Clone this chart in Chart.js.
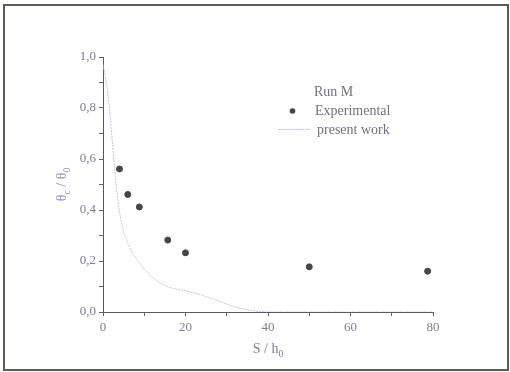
<!DOCTYPE html>
<html>
<head>
<meta charset="utf-8">
<script src="https://cdn.jsdelivr.net/npm/chart.js@4.4.1/dist/chart.umd.min.js"></script>
<style>
  html, body { margin: 0; padding: 0; background: #fff; }
  #wrap { width: 510px; height: 372px; }
</style>
</head>
<body>
<div id="wrap"><canvas id="myChart" width="510" height="372"></canvas></div>
<script>
// measured points, Run M
const expX = [4.0, 6.0, 8.8, 15.7, 20.0, 50.0, 78.7];
const expY = [0.561, 0.461, 0.412, 0.282, 0.232, 0.177, 0.160];

// model curve (present work)
const modelX = [0, 0.5, 1, 1.5, 2, 2.5, 3, 3.5, 4, 5, 6, 7, 8, 9, 10, 12, 14, 16, 18, 20, 22, 24, 26, 28, 30, 32, 34, 36, 38, 40, 50, 60, 70, 80];
const modelY = [0.97, 0.93, 0.88, 0.81, 0.72, 0.62, 0.53, 0.45, 0.39, 0.315, 0.27, 0.235, 0.21, 0.19, 0.168, 0.135, 0.112, 0.097, 0.089, 0.083, 0.075, 0.066, 0.055, 0.043, 0.031, 0.02, 0.012, 0.006, 0.002, 0, 0, 0, 0, 0];

const legendTitle = 'Run M';
const seriesNames = ['Experimental', 'present work'];

const tickColor = '#7b7f93';
const lineColor = '#bcc3f2';
const serif = '"Liberation Serif", "DejaVu Serif", serif';

function toPoints(xs, ys) {
    return xs.map((x, i) => ({ x: x, y: ys[i] }));
}

// draws text pieces centred on x, with smaller lowered subscripts
function drawSubText(ctx, parts, x, y, size) {
    let total = 0;
    parts.forEach(p => {
        ctx.font = (p.sub ? size * 0.7 : size) + 'px ' + serif;
        p.w = ctx.measureText(p.t).width;
        total += p.w;
    });
    let cx = x - total / 2;
    parts.forEach(p => {
        ctx.font = (p.sub ? size * 0.7 : size) + 'px ' + serif;
        ctx.fillText(p.t, cx, y + (p.sub ? size * 0.3 : 0));
        cx += p.w;
    });
}

const framePlugin = {
    id: 'frame',
    beforeDraw(chart) {
        const ctx = chart.ctx;
        ctx.save();
        ctx.fillStyle = '#ffffff';
        ctx.fillRect(0, 0, chart.width, chart.height);
        ctx.strokeStyle = '#5c5c52';
        ctx.lineWidth = 2;
        ctx.strokeRect(4, 5, 504, 365);
        ctx.restore();
    }
};

const titlesPlugin = {
    id: 'axisTitles',
    afterDraw(chart) {
        const ctx = chart.ctx;
        const area = chart.chartArea;
        ctx.save();
        ctx.textBaseline = 'alphabetic';
        ctx.textAlign = 'left';

        // x title
        ctx.fillStyle = '#7b7f93';
        drawSubText(ctx, [{ t: 'S / h' }, { t: '0', sub: true }], (area.left + area.right) / 2, 353, 14);

        // y title, rotated
        ctx.fillStyle = '#a08cc0';
        ctx.translate(66, (area.top + area.bottom) / 2);
        ctx.rotate(-Math.PI / 2);
        drawSubText(ctx, [{ t: 'θ' }, { t: 'c', sub: true }, { t: ' / θ' }, { t: '0', sub: true }], 0, 0, 14);
        ctx.restore();

        // legend
        ctx.save();
        ctx.fillStyle = '#6f7284';
        ctx.font = '14px ' + serif;
        ctx.textBaseline = 'middle';
        ctx.fillText(legendTitle, 314, 92);
        ctx.fillText(seriesNames[0], 315, 111);
        ctx.fillText(seriesNames[1], 317, 130);

        ctx.fillStyle = '#444444';
        ctx.beginPath();
        ctx.arc(292.5, 111, 2.8, 0, Math.PI * 2);
        ctx.fill();

        ctx.strokeStyle = lineColor;
        ctx.lineWidth = 1;
        ctx.setLineDash([2, 1]);
        ctx.beginPath();
        ctx.moveTo(278, 129.5);
        ctx.lineTo(310, 129.5);
        ctx.stroke();
        ctx.restore();
    }
};

const ctx = document.getElementById('myChart').getContext('2d');
const myChart = new Chart(ctx, {
    type: 'scatter',
    data: {
        datasets: [{
            label: seriesNames[0],
            data: toPoints(expX, expY),
            backgroundColor: '#464646',
            borderColor: '#464646',
            pointRadius: 3,
            showLine: false,
            order: 1
        }, {
            label: seriesNames[1],
            data: toPoints(modelX, modelY),
            borderColor: lineColor,
            borderWidth: 1,
            borderDash: [2, 1],
            pointRadius: 0,
            showLine: true,
            tension: 0,
            order: 2
        }]
    },
    options: {
        responsive: false,
        animation: false,
        layout: {
            padding: { left: 0, right: 77, top: 57, bottom: 0 }
        },
        plugins: {
            legend: { display: false },
            tooltip: { enabled: false }
        },
        scales: {
            x: {
                type: 'linear',
                min: 0,
                max: 80,
                afterFit: s => { s.height = 60; },
                afterBuildTicks: s => {
                    s.ticks = [0, 10, 20, 30, 40, 50, 60, 70, 80].map(v => ({ value: v }));
                },
                border: { display: true, color: '#5a5a5a', width: 1 },
                grid: {
                    drawOnChartArea: false,
                    drawTicks: true,
                    tickLength: 4,
                    color: '#666666'
                },
                ticks: {
                    color: tickColor,
                    font: { family: serif, size: 13 },
                    padding: 4,
                    maxRotation: 0,
                    autoSkip: false,
                    callback: v => (v % 20 === 0 ? String(v) : '')
                }
            },
            y: {
                type: 'linear',
                min: 0,
                max: 1,
                afterFit: s => { s.width = 103; },
                afterBuildTicks: s => {
                    s.ticks = [0, 0.1, 0.2, 0.3, 0.4, 0.5, 0.6, 0.7, 0.8, 0.9, 1.0].map(v => ({ value: v }));
                },
                border: { display: true, color: '#5a5a5a', width: 1 },
                grid: {
                    drawOnChartArea: false,
                    drawTicks: true,
                    tickLength: 4,
                    color: '#666666'
                },
                ticks: {
                    color: tickColor,
                    font: { family: serif, size: 13 },
                    padding: 3,
                    autoSkip: false,
                    callback: v => {
                        const r = Math.round(v * 10);
                        return r % 2 === 0 ? (r / 10).toFixed(1).replace('.', ',') : '';
                    }
                }
            }
        }
    },
    plugins: [framePlugin, titlesPlugin]
});
</script>
</body>
</html>
